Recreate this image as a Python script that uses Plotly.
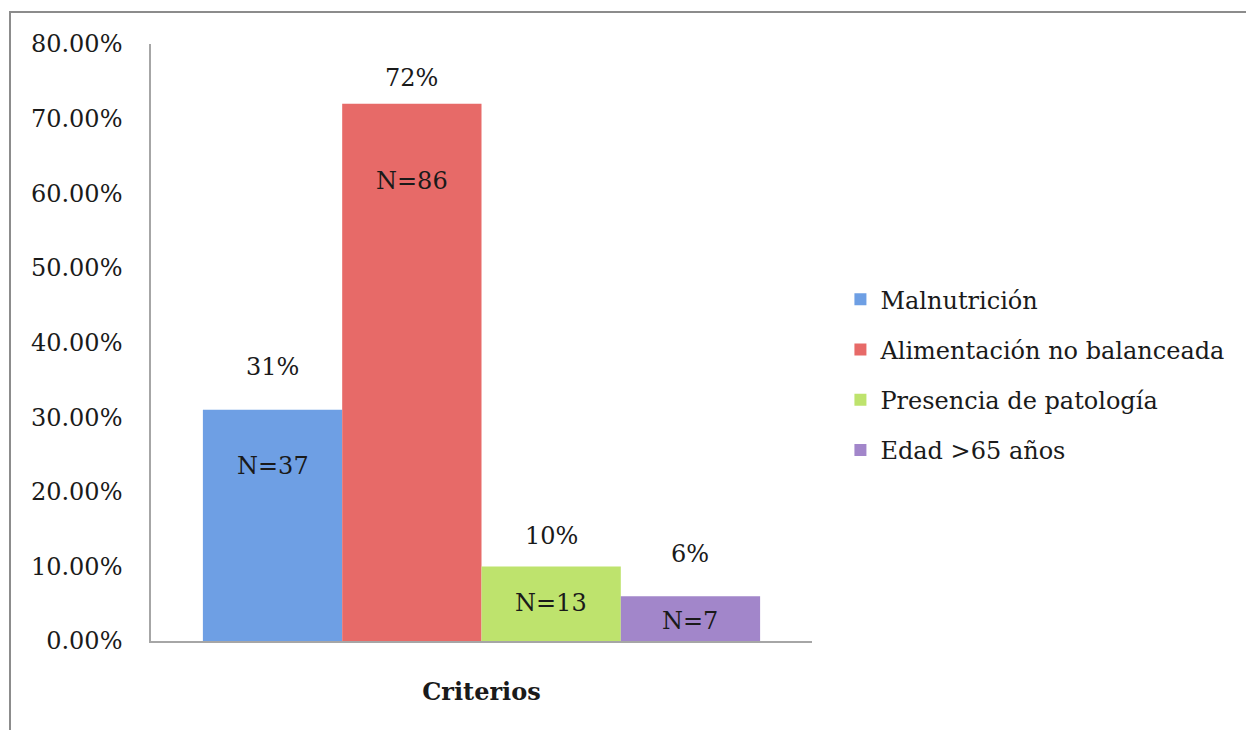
import plotly.graph_objects as go

categories = ["Malnutrición", "Alimentación no balanceada", "Presencia de patología", "Edad >65 años"]
values = [0.31, 0.72, 0.10, 0.06]
pct_labels = ["31%", "72%", "10%", "6%"]
n_labels = ["N=37", "N=86", "N=13", "N=7"]
x_category = "Criterios"

colors = ["#6E9FE4", "#E76A68", "#BEE36D", "#A286CA"]
pct_shift = [43, 26, 30, 42]
n_shift = [-56, -77, -37, -25]

W, H = 1246, 730
ml, mr, mt, mb = 151, 434, 44, 89
bargap = 0.157
FONT = "DejaVu Serif"
FS = 24
TXT = "#1a1a1a"

fig = go.Figure()
for i, c in enumerate(categories):
    fig.add_trace(go.Bar(
        x=[x_category], y=[values[i]], name=c,
        marker=dict(color=colors[i], line=dict(width=0)),
        legendgroup=c,
    ))

plot_w = W - ml - mr
bw = (1 - bargap) * plot_w / len(categories)
ann = []
for i in range(len(categories)):
    xs = (i - (len(categories) - 1) / 2) * bw
    ann.append(dict(x=x_category, y=values[i], xref="x", yref="y", text=pct_labels[i],
                    showarrow=False, xshift=xs, yshift=pct_shift[i], yanchor="middle",
                    font=dict(family=FONT, size=FS, color=TXT)))
    ann.append(dict(x=x_category, y=values[i], xref="x", yref="y", text=n_labels[i],
                    showarrow=False, xshift=xs, yshift=n_shift[i], yanchor="middle",
                    font=dict(family=FONT, size=FS, color=TXT)))

fig.update_layout(
    width=W, height=H,
    margin=dict(l=ml, r=mr, t=mt, b=mb, pad=0),
    paper_bgcolor="white", plot_bgcolor="white",
    barmode="group", bargap=bargap, bargroupgap=0,
    font=dict(family=FONT, size=FS, color=TXT),
    annotations=ann,
    legend=dict(x=1.043, y=0.446, xanchor="left", yanchor="middle",
                font=dict(family=FONT, size=FS, color=TXT),
                tracegroupgap=16, traceorder="grouped", itemwidth=30),
    showlegend=True,
    shapes=[dict(type="rect", xref="paper", yref="paper", xsizemode="pixel", ysizemode="pixel",
                 xanchor=0, yanchor=1, x0=10 - ml, x1=W + 20, y0=mt - 12, y1=-(H + 20),
                 line=dict(color="#8c8c8c", width=2), fillcolor="rgba(0,0,0,0)", layer="below")],
)
fig.update_yaxes(range=[0, 0.8], dtick=0.1, tickformat=".2%", showgrid=False, zeroline=False,
                 showline=True, linecolor="#a6a6a6", linewidth=1.5, ticks="", ticklabelstandoff=22,
                 tickfont=dict(family=FONT, size=FS, color=TXT))
fig.update_xaxes(showgrid=False, showline=True, linecolor="#a6a6a6", linewidth=1.5, ticks="",
                 tickfont=dict(family=FONT, size=24, color=TXT, weight="bold"),
                 ticklabelstandoff=28)

fig.write_html("out.html")
